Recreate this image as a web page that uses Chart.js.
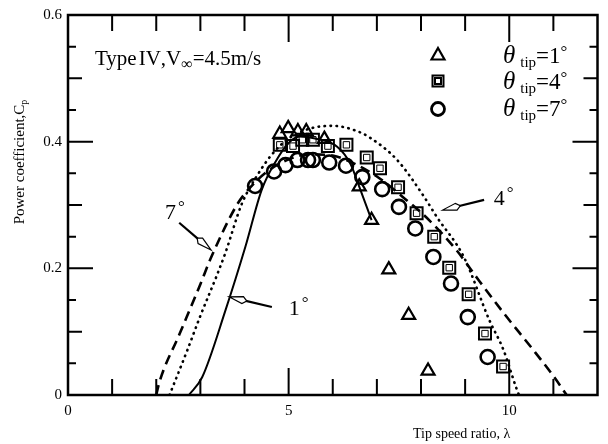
<!DOCTYPE html>
<html>
<head>
<meta charset="utf-8">
<script src="https://cdn.jsdelivr.net/npm/chart.js@4"></script>
<style>
  html, body { margin: 0; padding: 0; background: #fff; }
  #wrap { width: 608px; height: 444px; }
</style>
</head>
<body>
<div id="wrap"><canvas id="cpChart" width="608" height="444"></canvas></div>
<script>
// measured points, theta_tip = 1, 4, 7 deg
const tri1X = [4.80, 4.99, 5.21, 5.40, 5.81, 6.60, 6.88, 7.27, 7.72, 8.16];
const tri1Y = [0.412, 0.421, 0.416, 0.416, 0.404, 0.329, 0.276, 0.198, 0.126, 0.038];

const sq4X = [4.80, 5.10, 5.31, 5.55, 5.89, 6.31, 6.77, 7.07, 7.48, 7.90, 8.30, 8.64, 9.08, 9.45, 9.86];
const sq4Y = [0.395, 0.393, 0.403, 0.403, 0.393, 0.395, 0.375, 0.358, 0.328, 0.287, 0.250, 0.201, 0.159, 0.097, 0.045];

const circ7X = [4.24, 4.67, 4.93, 5.20, 5.44, 5.55, 5.92, 6.30, 6.67, 7.12, 7.50, 7.87, 8.28, 8.68, 9.06, 9.51];
const circ7Y = [0.330, 0.353, 0.363, 0.371, 0.371, 0.371, 0.367, 0.362, 0.344, 0.325, 0.297, 0.263, 0.218, 0.176, 0.123, 0.060];

// calculated curves
const line1X = [2.74, 3.04, 3.57, 4.02, 4.39, 4.70, 5.00, 5.25, 5.60, 6.10, 6.40, 6.60, 6.88];
const line1Y = [0, 0.028, 0.134, 0.234, 0.324, 0.368, 0.398, 0.408, 0.405, 0.392, 0.365, 0.329, 0.276];

const line4X = [2.30, 2.70, 3.00, 3.38, 3.57, 3.94, 4.30, 4.60, 5.00, 5.50, 6.00, 6.50, 6.85, 7.46, 8.07, 8.36, 8.97, 9.55, 9.87, 10.16, 10.22];
const line4Y = [0, 0.07, 0.125, 0.19, 0.225, 0.302, 0.348, 0.378, 0.405, 0.421, 0.425, 0.418, 0.406, 0.371, 0.313, 0.281, 0.218, 0.118, 0.071, 0.011, 0];

const line7X = [2.00, 2.07, 2.52, 3.00, 3.23, 3.80, 4.02, 4.50, 5.00, 5.50, 6.00, 6.50, 7.00, 7.60, 8.20, 8.80, 9.30, 9.90, 10.50, 11.00, 11.30];
const line7Y = [0, 0.02, 0.095, 0.175, 0.215, 0.297, 0.319, 0.352, 0.372, 0.380, 0.378, 0.365, 0.345, 0.312, 0.275, 0.229, 0.182, 0.127, 0.075, 0.03, 0];

const xTickLabels = [0, 5, 10];
const yTickLabels = [0, 0.2, 0.4, 0.6];

const serif = "'Liberation Serif', 'DejaVu Serif', serif";

function toPoints(xs, ys) {
    return xs.map((x, i) => ({ x: x, y: ys[i] }));
}

function drawRich(ctx, parts, x, y) {
    parts.forEach(p => {
        ctx.font = p.font;
        ctx.fillText(p.t, x, y + (p.dy || 0));
        x += ctx.measureText(p.t).width + (p.gap || 0);
    });
}

function drawArrow(ctx, x1, y1, x2, y2) {
    const ang = Math.atan2(y2 - y1, x2 - x1);
    const headLen = 14, headW = 3.5;
    const bx = x2 - headLen * Math.cos(ang), by = y2 - headLen * Math.sin(ang);
    ctx.lineWidth = 2.2;
    ctx.beginPath();
    ctx.moveTo(x1, y1);
    ctx.lineTo(bx, by);
    ctx.stroke();
    ctx.lineWidth = 1.2;
    ctx.beginPath();
    ctx.moveTo(x2, y2);
    ctx.lineTo(bx + headW * Math.sin(ang), by - headW * Math.cos(ang));
    ctx.lineTo(bx - headLen * 0.3 * Math.cos(ang), by - headLen * 0.3 * Math.sin(ang));
    ctx.lineTo(bx - headW * Math.sin(ang), by + headW * Math.cos(ang));
    ctx.closePath();
    ctx.fillStyle = '#fff';
    ctx.fill();
    ctx.stroke();
}

const decor = {
    id: 'decor',
    afterDraw(chart) {
        const ctx = chart.ctx;
        const a = chart.chartArea;
        const xs = chart.scales.x, ys = chart.scales.y;
        ctx.save();
        ctx.strokeStyle = '#000';
        ctx.fillStyle = '#000';

        // frame
        ctx.lineWidth = 2.5;
        ctx.strokeRect(a.left, a.top, a.right - a.left, a.bottom - a.top);

        // inward ticks
        ctx.lineWidth = 2;
        ys.ticks.forEach(t => {
            const k = Math.round(t.value * 100);
            if (k <= 0 || k >= 60) return;
            const len = k % 20 === 0 ? 25 : (k % 10 === 0 ? 14 : 8);
            const py = ys.getPixelForValue(t.value);
            ctx.beginPath();
            ctx.moveTo(a.left, py); ctx.lineTo(a.left + len, py);
            ctx.moveTo(a.right, py); ctx.lineTo(a.right - len, py);
            ctx.stroke();
        });
        xs.ticks.forEach(t => {
            const v = Math.round(t.value);
            if (v <= 0 || v >= 12) return;
            const len = v % 5 === 0 ? 27 : 16;
            const px = xs.getPixelForValue(t.value);
            ctx.beginPath();
            ctx.moveTo(px, a.bottom); ctx.lineTo(px, a.bottom - len);
            ctx.moveTo(px, a.top); ctx.lineTo(px, a.top + len);
            ctx.stroke();
        });

        // axis titles
        ctx.textBaseline = 'alphabetic';
        ctx.textAlign = 'left';
        ctx.save();
        ctx.translate(24, 162);
        ctx.rotate(-Math.PI / 2);
        ctx.font = '15px ' + serif;
        const w1 = ctx.measureText('Power coefficient,C').width;
        ctx.font = '10px ' + serif;
        const w2 = ctx.measureText('p').width;
        drawRich(ctx, [
            { t: 'Power coefficient,C', font: '15px ' + serif },
            { t: 'p', font: '10px ' + serif, dy: 3 }
        ], -(w1 + w2) / 2, 0);
        ctx.restore();

        drawRich(ctx, [{ t: 'Tip speed ratio, \u03bb', font: '14px ' + serif }], 413, 438);

        // heading
        drawRich(ctx, [
            { t: 'Type', font: '21px ' + serif, gap: 2 },
            { t: 'IV', font: '21px ' + serif },
            { t: ',V', font: '21px ' + serif },
            { t: '\u221e', font: '16px ' + serif, dy: 4 },
            { t: '=4.5m/s', font: '21px ' + serif }
        ], 95, 65);

        // legend
        const rows = [
            { style: 'tri', label: '1', y: 63 },
            { style: 'sq', label: '4', y: 89 },
            { style: 'circ', label: '7', y: 116 }
        ];
        rows.forEach(r => {
            const cx = 438, cy = r.y - 8;
            ctx.beginPath();
            if (r.style === 'tri') {
                ctx.lineWidth = 2.2;
                ctx.moveTo(cx, cy - 7);
                ctx.lineTo(cx + 6.5, cy + 4.5);
                ctx.lineTo(cx - 6.5, cy + 4.5);
                ctx.closePath();
            } else if (r.style === 'sq') {
                ctx.lineWidth = 2;
                ctx.rect(cx - 5.5, cy - 5.5, 11, 11);
                ctx.rect(cx - 3, cy - 3, 6, 6);
            } else {
                ctx.lineWidth = 2.8;
                ctx.arc(cx, cy + 1, 6.5, 0, Math.PI * 2);
            }
            ctx.stroke();
            drawRich(ctx, [
                { t: '\u03b8', font: 'italic 25px ' + serif, gap: 5 },
                { t: 'tip', font: '15px ' + serif, dy: 4 },
                { t: '=' + r.label, font: '23px ' + serif },
                { t: '\u00b0', font: '17px ' + serif, dy: -6 }
            ], 503, r.y);
        });

        // curve labels with arrows (positions in data units)
        const P = (x, y) => [xs.getPixelForValue(x), ys.getPixelForValue(y)];
        const labels = [
            { t: '7', at: [2.20, 0.278], from: [2.52, 0.272], to: [3.24, 0.229] },
            { t: '1', at: [5.00, 0.126], from: [4.62, 0.139], to: [3.65, 0.155] },
            { t: '4', at: [9.65, 0.300], from: [9.43, 0.308], to: [8.49, 0.292] }
        ];
        labels.forEach(l => {
            const f = P(l.from[0], l.from[1]), tp = P(l.to[0], l.to[1]), p = P(l.at[0], l.at[1]);
            drawArrow(ctx, f[0], f[1], tp[0], tp[1]);
            ctx.fillStyle = '#000';
            drawRich(ctx, [
                { t: l.t, font: '22px ' + serif, gap: 2 },
                { t: '\u00b0', font: '17px ' + serif, dy: -7 }
            ], p[0], p[1]);
        });

        ctx.restore();
    }
};

const ctx = document.getElementById('cpChart').getContext('2d');
const cpChart = new Chart(ctx, {
    type: 'scatter',
    data: {
        datasets: [
            {
                label: 'theta_tip=1 (data)',
                data: toPoints(tri1X, tri1Y),
                pointStyle: 'triangle',
                pointRadius: 7.5,
                borderWidth: 2.2,
                borderColor: '#000',
                backgroundColor: 'rgba(0,0,0,0)'
            },
            {
                label: 'theta_tip=4 (data)',
                data: toPoints(sq4X, sq4Y),
                pointStyle: 'rect',
                pointRadius: 8.5,
                borderWidth: 2,
                borderColor: '#000',
                backgroundColor: 'rgba(0,0,0,0)'
            },
            {
                // inner outline of the double square marker
                label: 'theta_tip=4 (inner)',
                data: toPoints(sq4X, sq4Y),
                pointStyle: 'rect',
                pointRadius: 4.5,
                borderWidth: 1,
                borderColor: '#000',
                backgroundColor: 'rgba(0,0,0,0)'
            },
            {
                label: 'theta_tip=7 (data)',
                data: toPoints(circ7X, circ7Y),
                pointStyle: 'circle',
                pointRadius: 7,
                borderWidth: 2.6,
                borderColor: '#000',
                backgroundColor: 'rgba(0,0,0,0)'
            },
            {
                label: '1 deg',
                data: toPoints(line1X, line1Y),
                showLine: true,
                pointRadius: 0,
                borderColor: '#000',
                borderWidth: 2,
                cubicInterpolationMode: 'monotone'
            },
            {
                label: '4 deg',
                data: toPoints(line4X, line4Y),
                showLine: true,
                pointRadius: 0,
                borderColor: '#000',
                borderWidth: 2.6,
                borderDash: [0.5, 5.5],
                borderCapStyle: 'round',
                cubicInterpolationMode: 'monotone'
            },
            {
                label: '7 deg',
                data: toPoints(line7X, line7Y),
                showLine: true,
                pointRadius: 0,
                borderColor: '#000',
                borderWidth: 2.6,
                borderDash: [10, 6],
                cubicInterpolationMode: 'monotone'
            }
        ]
    },
    options: {
        responsive: false,
        animation: false,
        events: [],
        layout: { padding: { top: 15, right: 8, left: 0, bottom: 0 } },
        plugins: {
            legend: { display: false },
            tooltip: { enabled: false }
        },
        scales: {
            x: {
                type: 'linear',
                min: 0,
                max: 12,
                grid: { display: false, drawTicks: false },
                border: { display: false },
                ticks: {
                    stepSize: 1,
                    autoSkip: false,
                    maxRotation: 0,
                    padding: 7,
                    color: '#000',
                    font: { family: serif, size: 15 },
                    callback: v => (xTickLabels.includes(v) ? String(v) : '')
                },
                afterFit: s => { s.height = 49; }
            },
            y: {
                type: 'linear',
                min: 0,
                max: 0.6,
                grid: { display: false, drawTicks: false },
                border: { display: false },
                ticks: {
                    stepSize: 0.05,
                    autoSkip: false,
                    padding: 6,
                    color: '#000',
                    font: { family: serif, size: 15 },
                    callback: v => {
                        const hit = yTickLabels.find(t => Math.abs(t - v) < 1e-6);
                        return hit === undefined ? '' : String(hit);
                    }
                },
                afterFit: s => { s.width = 68; }
            }
        }
    },
    plugins: [decor]
});
</script>
</body>
</html>
